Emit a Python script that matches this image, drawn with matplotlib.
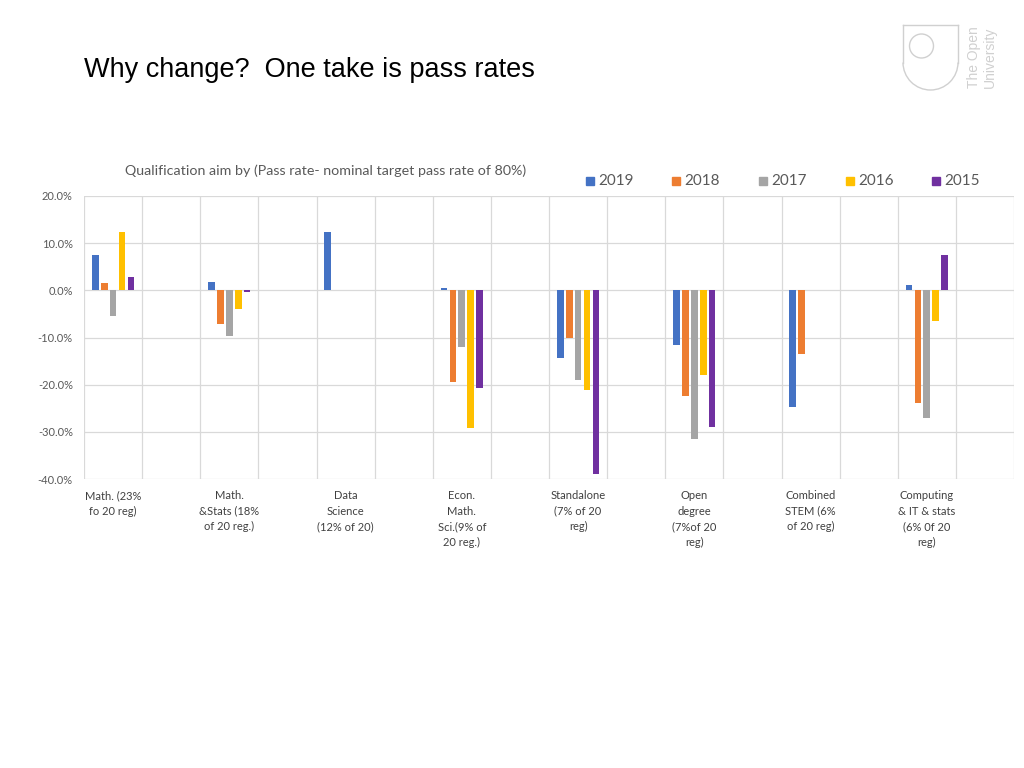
import numpy as np
import matplotlib.pyplot as plt
from matplotlib.patches import Circle, Arc
from matplotlib.ticker import PercentFormatter

plt.rcParams["axes.unicode_minus"] = False

categories = [
    "Math. (23%\nfo 20 reg)",
    "Math.\n&Stats (18%\nof 20 reg.)",
    "Data\nScience\n(12% of 20)",
    "Econ.\nMath.\nSci.(9% of\n20 reg.)",
    "Standalone\n(7% of 20\nreg)",
    "Open\ndegree\n(7%of 20\nreg)",
    "Combined\nSTEM (6%\nof 20 reg)",
    "Computing\n& IT & stats\n(6% 0f 20\nreg)",
]
years = ["2019", "2018", "2017", "2016", "2015"]
colors = ["#4472C4", "#ED7D31", "#A5A5A5", "#FFC000", "#7030A0"]

nan = np.nan
v2019 = [7.4, 1.8, 12.4, 0.4, -14.4, -11.5, -24.8, 1.1]
v2018 = [1.6, -7.2, nan, -19.4, -10.0, -22.3, -13.4, -23.8]
v2017 = [-5.5, -9.6, nan, -12.0, -19.1, -31.5, nan, -27.1]
v2016 = [12.4, -3.9, nan, -29.2, -21.2, -18.0, nan, -6.4]
v2015 = [2.9, -0.3, nan, -20.7, -38.9, -28.9, nan, 7.4]
series = [v2019, v2018, v2017, v2016, v2015]

W, H = 1024, 768
fig = plt.figure(figsize=(W / 100, H / 100), dpi=100)
fig.patch.set_facecolor("white")

# slide title
fig.text(84 / W, 1 - 70 / H, "Why change?  One take is pass rates",
         fontsize=19.5, family="Liberation Sans", color="black", va="center")

# chart area
ax = fig.add_axes([84 / W, 1 - 479 / H, 930 / W, 283 / H])
x = np.arange(len(categories)) * 2 + 0.5
step = 0.153
width = 0.115
for k, (vals, col) in enumerate(zip(series, colors)):
    ax.bar(x + (k - 2) * step, vals, width=width, color=col, zorder=3)

ax.set_xlim(0, 16)
ax.set_ylim(-40, 20)
ax.set_yticks(np.arange(-40, 21, 10))
ax.yaxis.set_major_formatter(PercentFormatter(decimals=1))
ax.set_xticks(x)
ax.set_xticklabels(categories, family="Lato", fontsize=8, color="#404040",
                   linespacing=1.5, va="top")
ax.set_xticks(np.arange(0, 17), minor=True)
ax.tick_params(axis="x", which="both", length=0, pad=8)
ax.tick_params(axis="y", length=0, pad=8, labelsize=8, labelcolor="#595959")
for lab in ax.get_yticklabels():
    lab.set_family("Lato")
ax.grid(axis="y", color="#D9D9D9", linewidth=0.9, zorder=0)
ax.grid(axis="x", which="minor", color="#D9D9D9", linewidth=0.9, zorder=0)
for s in ax.spines.values():
    s.set_visible(False)

# chart title and legend
fig.text(125 / W, 1 - 171 / H,
         "Qualification aim by (Pass rate- nominal target pass rate of 80%)",
         family="Lato", fontsize=10.3, color="#595959", va="center")
leg_x = [590, 676, 763, 850, 936]
for lx, yr, col in zip(leg_x, years, colors):
    fig.patches.append(plt.Rectangle(((lx - 4) / W, 1 - 185 / H), 8 / W, 8 / H,
                                     transform=fig.transFigure, color=col))
    fig.text((lx + 8) / W, 1 - 181 / H, yr, family="Lato", fontsize=11,
             color="#595959", va="center")

# logo
lg = fig.add_axes([880 / W, 1 - 100 / H, 130 / W, 85 / H])
lg.set_xlim(880, 1010)
lg.set_ylim(100, 15)
lg.axis("off")
lc = "#D0D0D0"
lg.plot([903, 958], [25, 25], color=lc, lw=1)
lg.plot([903, 903], [25, 62.5], color=lc, lw=1)
lg.plot([958, 958], [25, 62.5], color=lc, lw=1)
lg.add_patch(Arc((930.5, 62.5), 55, 55, theta1=0, theta2=180, color=lc, lw=1))
lg.add_patch(Circle((921.5, 46), 12, fill=False, color=lc, lw=1))
lg.text(974, 57, "The Open", rotation=90, ha="center", va="center",
        family="Liberation Sans", fontsize=10, color=lc)
lg.text(990, 57, "University", rotation=90, ha="center", va="center",
        family="Liberation Sans", fontsize=10, color=lc)

fig.savefig("out.png", dpi=100, facecolor="white")
